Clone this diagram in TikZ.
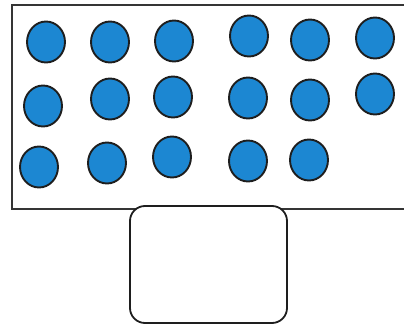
\documentclass[tikz,border=0pt]{standalone}
\usetikzlibrary{shapes.geometric}
\definecolor{dotblue}{HTML}{1C87D2}
\definecolor{ink}{HTML}{1E1E1E}
\tikzset{
  dot/.style={ellipse, draw=ink, line width=1.9pt, fill=dotblue, minimum width=38pt, minimum height=41pt, inner sep=0pt},
  frame/.style={draw=ink!90, line width=1.8pt},
  tray/.style={draw=ink, line width=1.8pt, fill=white, rounded corners=15pt}
}
\begin{document}
\begin{tikzpicture}[x=1pt,y=-1pt]
\useasboundingbox (0,0) rectangle (404,328);
\coordinate (tr) at (406,5);
\coordinate (tl) at (12,5);
\coordinate (bl) at (12,209);
\coordinate (br) at (406,209);
\draw[frame] (tr) -- (tl) -- (bl) -- (br);
% row 1
\node[dot] (a1) at (46,42) {};
\node[dot] (a2) at (110,42) {};
\node[dot] (a3) at (174,41) {};
\node[dot] (a4) at (249,36) {};
\node[dot] (a5) at (310,40) {};
\node[dot] (a6) at (375,38) {};
% row 2
\node[dot] (b1) at (43,106) {};
\node[dot] (b2) at (110,99) {};
\node[dot] (b3) at (173,97) {};
\node[dot] (b4) at (248,98) {};
\node[dot] (b5) at (310,100) {};
\node[dot] (b6) at (375,94) {};
% row 3
\node[dot] (c1) at (39,167) {};
\node[dot] (c2) at (107,163) {};
\node[dot] (c3) at (172,157) {};
\node[dot] (c4) at (248,161) {};
\node[dot] (c5) at (309,160) {};
% box
\node[tray, minimum width=157pt, minimum height=117pt, inner sep=0pt] (box) at (208.5,264.5) {};
\end{tikzpicture}
\end{document}
